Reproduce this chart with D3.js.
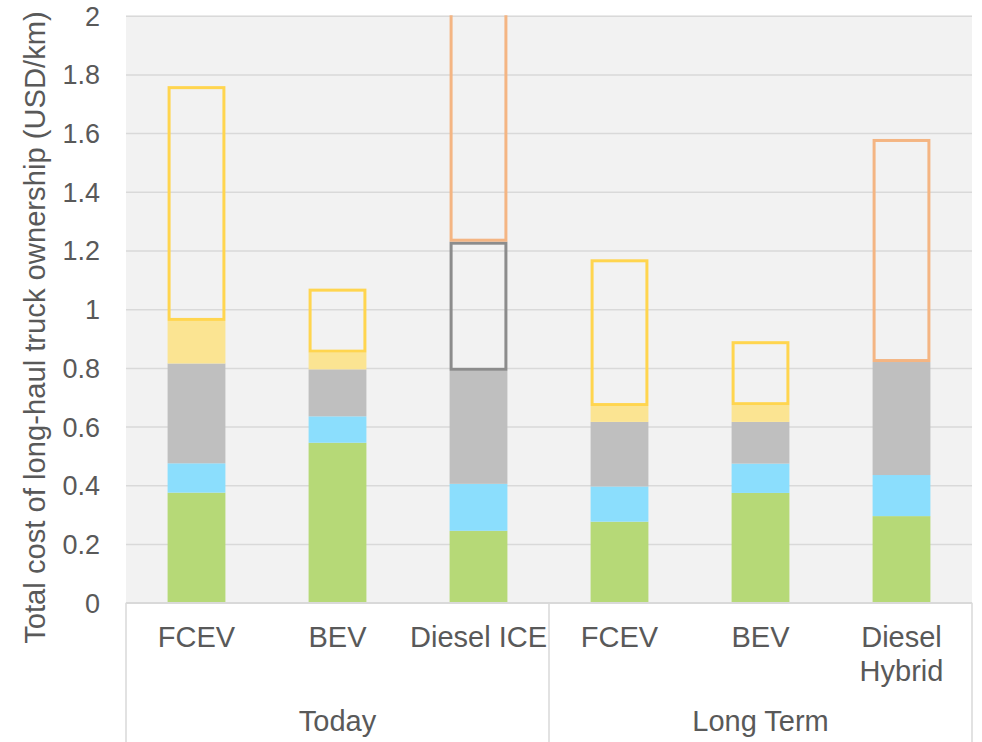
<!DOCTYPE html>
<html>
<head>
<meta charset="utf-8">
<script src="https://cdn.jsdelivr.net/npm/d3@7"></script>
<style>
  html, body { margin: 0; padding: 0; background: #ffffff; }
  svg { display: block; font-family: "Liberation Sans", Arial, sans-serif; }
</style>
</head>
<body>
<svg id="chart" width="982" height="742"></svg>
<script>
// Vehicle types along the category axis, grouped by time horizon
const categories = ["FCEV", "BEV", "Diesel ICE", "FCEV", "BEV", "Diesel Hybrid"];
const categoryLines = [["FCEV"], ["BEV"], ["Diesel ICE"], ["FCEV"], ["BEV"], ["Diesel", "Hybrid"]];
const groups = ["Today", "Long Term"];
const groupSize = [3, 3];

// Cost components in USD/km, stacked from the bottom up
const vehicleCost   = [0.375, 0.545, 0.245, 0.276, 0.374, 0.295];
const otherCost     = [0.100, 0.090, 0.160, 0.120, 0.100, 0.140];
const energyCost    = [0.340, 0.160, 0.385, 0.220, 0.142, 0.385];
const hydrogenLow   = [0.145, 0.057, 0.000, 0.054, 0.057, 0.000];
// Ranges drawn as outlined boxes above the solid stack
const energyRange   = [0.800, 0.218, 0.000, 0.500, 0.218, 0.000];
const dieselRange   = [0.000, 0.000, 0.440, 0.000, 0.000, 0.000];
const carbonRange   = [0.000, 0.000, 0.970, 0.000, 0.000, 0.760];

const yTicks = [0, 0.2, 0.4, 0.6, 0.8, 1, 1.2, 1.4, 1.6, 1.8, 2];
const yTitle = "Total cost of long-haul truck ownership (USD/km)";

const seriesKeys = ["vehicle", "other", "energy", "hydrogenLow", "energyRange", "dieselRange", "carbonRange"];
const seriesStyle = {
  vehicle:     { fill: "#b6d977", outline: null },
  other:       { fill: "#8bdefd", outline: null },
  energy:      { fill: "#bfbfbf", outline: null },
  hydrogenLow: { fill: "#fbe492", outline: null },
  energyRange: { fill: "none", outline: "#ffd54f" },
  dieselRange: { fill: "none", outline: "#8c8c8c" },
  carbonRange: { fill: "none", outline: "#f4b583" }
};

const table = categories.map((c, i) => ({
  index: i,
  vehicle: vehicleCost[i],
  other: otherCost[i],
  energy: energyCost[i],
  hydrogenLow: hydrogenLow[i],
  energyRange: energyRange[i],
  dieselRange: dieselRange[i],
  carbonRange: carbonRange[i]
}));

const svg = d3.select("#chart");
const plot = { left: 126, right: 972, top: 15.7, bottom: 602.7 };
const textColor = "#595959";
const gridColor = "#d9d9d9";

const x = d3.scaleBand()
  .domain(d3.range(categories.length))
  .range([plot.left, plot.right])
  .paddingInner(0.59)
  .paddingOuter(0.295);

const y = d3.scaleLinear().domain([0, 2]).range([plot.bottom, plot.top]);

// Plot background
svg.append("rect")
  .attr("x", plot.left).attr("y", plot.top)
  .attr("width", plot.right - plot.left).attr("height", plot.bottom - plot.top)
  .attr("fill", "#f2f2f2");

// Horizontal gridlines from the value axis
const yAxis = d3.axisLeft(y)
  .tickValues(yTicks)
  .tickFormat(d3.format("~g"))
  .tickSize(-(plot.right - plot.left))
  .tickPadding(26);

const gy = svg.append("g")
  .attr("transform", `translate(${plot.left},0)`)
  .call(yAxis);
gy.select(".domain").remove();
gy.selectAll(".tick line").attr("stroke", gridColor).attr("stroke-width", 1.5);
gy.selectAll(".tick text")
  .attr("fill", textColor)
  .attr("font-size", 27)
  .attr("font-family", "Liberation Sans, Arial, sans-serif")
  .attr("dy", "0.35em");

// Clip region so ranges running past the axis maximum are cut at the top
svg.append("clipPath").attr("id", "plotClip")
  .append("rect")
  .attr("x", plot.left).attr("y", plot.top - 0.5)
  .attr("width", plot.right - plot.left).attr("height", plot.bottom - plot.top + 0.5);

const stacked = d3.stack().keys(seriesKeys)(table);
const barsLayer = svg.append("g").attr("clip-path", "url(#plotClip)");

stacked.forEach(layer => {
  const st = seriesStyle[layer.key];
  const g = barsLayer.append("g");
  const segs = layer.filter(d => d[1] - d[0] > 0);
  if (st.outline) {
    const sw = 3;
    g.selectAll("rect").data(segs).join("rect")
      .attr("x", d => x(d.data.index) + sw / 2)
      .attr("y", d => y(d[1]) + sw / 2)
      .attr("width", x.bandwidth() - sw)
      .attr("height", d => y(d[0]) - y(d[1]) - sw)
      .attr("fill", "none")
      .attr("stroke", st.outline)
      .attr("stroke-width", sw);
  } else {
    g.selectAll("rect").data(segs).join("rect")
      .attr("x", d => x(d.data.index))
      .attr("y", d => y(d[1]))
      .attr("width", x.bandwidth())
      .attr("height", d => y(d[0]) - y(d[1]))
      .attr("fill", st.fill);
  }
});

// Category axis line
svg.append("line")
  .attr("x1", plot.left).attr("x2", plot.right)
  .attr("y1", plot.bottom).attr("y2", plot.bottom)
  .attr("stroke", gridColor).attr("stroke-width", 1.5);

// Group separators below the axis
const boundaries = [0];
groupSize.reduce((acc, n) => { boundaries.push(acc + n); return acc + n; }, 0);
const step = x.step();
const boundaryX = boundaries.map(b => plot.left + b * step);
svg.selectAll("line.sep").data(boundaryX).join("line")
  .attr("class", "sep")
  .attr("x1", d => d).attr("x2", d => d)
  .attr("y1", plot.bottom).attr("y2", 742)
  .attr("stroke", gridColor).attr("stroke-width", 1.5);

// Category labels
const catG = svg.append("g");
categoryLines.forEach((lines, i) => {
  const t = catG.append("text")
    .attr("x", x(i) + x.bandwidth() / 2)
    .attr("y", 647)
    .attr("text-anchor", "middle")
    .attr("fill", textColor)
    .attr("font-size", 29);
  lines.forEach((ln, k) => {
    t.append("tspan")
      .attr("x", x(i) + x.bandwidth() / 2)
      .attr("dy", k === 0 ? 0 : 34)
      .text(ln);
  });
});

// Group labels
svg.selectAll("text.group").data(groups).join("text")
  .attr("class", "group")
  .attr("x", (d, i) => (boundaryX[i] + boundaryX[i + 1]) / 2)
  .attr("y", 731)
  .attr("text-anchor", "middle")
  .attr("fill", textColor)
  .attr("font-size", 29)
  .text(d => d);

// Value axis title
svg.append("text")
  .attr("transform", `translate(45,327.5) rotate(-90)`)
  .attr("text-anchor", "middle")
  .attr("fill", textColor)
  .attr("font-size", 29.2)
  .text(yTitle);
</script>
</body>
</html>
